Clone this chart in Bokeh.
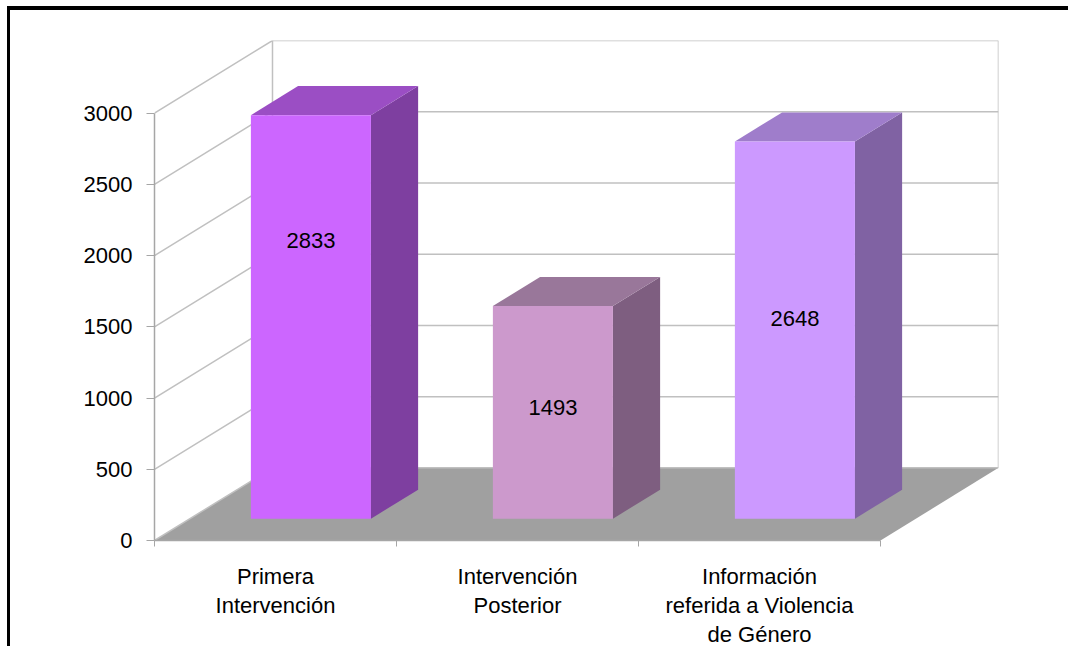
from bokeh.plotting import figure
from bokeh.models import Range1d, FixedTicker, ColumnDataSource
from bokeh.core.properties import value
from bokeh.embed import file_html
from bokeh.resources import INLINE

# ---- data ----
categories = ["Primera\nIntervención", "Intervención\nPosterior",
              "Información\nreferida a Violencia\nde Género"]
counts = [2833, 1493, 2648]
y_ticks = [0, 500, 1000, 1500, 2000, 2500, 3000]

# ---- style ----
front_colors = ["#CC66FF", "#CC99CC", "#CC99FF"]
side_colors = ["#7E3FA0", "#7E5E80", "#8062A3"]
top_colors = ["#9B4EC4", "#99779A", "#9F7DCB"]
label_frac = [0.69, 0.525, 0.53]
FONT = "Liberation Sans"
FSIZE = "22px"

n = len(categories)
YMAX = y_ticks[-1]
DX = 0.4876      # depth offset in category units
DY = 510.0       # depth offset in value units
HALF_W = 0.248
D0, D1 = 0.3, 0.7

p = figure(width=1061, height=640,
           x_range=Range1d(0, n + DX), y_range=Range1d(0, YMAX + DY),
           output_backend="svg", toolbar_location=None,
           min_border_left=144, min_border_right=73,
           min_border_top=30, min_border_bottom=108)
p.styles = {"border-top": "4px solid black", "border-left": "3px solid black",
            "margin-top": "6px", "margin-left": "7px"}
p.outline_line_color = None
p.xgrid.visible = False
p.ygrid.visible = False
p.background_fill_color = "white"
p.border_fill_color = "white"

# floor
p.patch([0, n, n + DX, DX], [0, 0, DY, DY], fill_color="#A0A0A0", line_color=None)

# walls / gridlines
gx0, gy0, gx1, gy1 = [], [], [], []
for t in y_ticks:
    gx0 += [DX, 0]
    gy0 += [t + DY, t]
    gx1 += [n + DX, DX]
    gy1 += [t + DY, t + DY]
gx0 += [DX, n + DX]
gy0 += [DY, DY]
gx1 += [DX, n + DX]
gy1 += [YMAX + DY, YMAX + DY]
p.segment(gx0, gy0, gx1, gy1, line_color="#C0C0C0", line_width=1.5)

# bars
for i, v in enumerate(counts):
    cx = i + 0.5
    xl, xr = cx - HALF_W, cx + HALF_W
    fx = [xl + D0 * DX, xr + D0 * DX, xr + D0 * DX, xl + D0 * DX]
    fy = [D0 * DY, D0 * DY, v + D0 * DY, v + D0 * DY]
    sx = [xr + D0 * DX, xr + D1 * DX, xr + D1 * DX, xr + D0 * DX]
    sy = [D0 * DY, D1 * DY, v + D1 * DY, v + D0 * DY]
    tx = [xl + D0 * DX, xr + D0 * DX, xr + D1 * DX, xl + D1 * DX]
    ty = [v + D0 * DY, v + D0 * DY, v + D1 * DY, v + D1 * DY]
    p.patch(sx, sy, fill_color=side_colors[i], line_color=None)
    p.patch(tx, ty, fill_color=top_colors[i], line_color=None)
    p.patch(fx, fy, fill_color=front_colors[i], line_color=None)

lab = ColumnDataSource(dict(
    x=[i + 0.5 + D0 * DX for i in range(n)],
    y=[v * f + D0 * DY for v, f in zip(counts, label_frac)],
    t=[str(v) for v in counts]))
p.text(x="x", y="y", text="t", source=lab, text_align="center",
       text_baseline="middle", text_font=value(FONT), text_font_size=FSIZE,
       text_color="black")

# y axis
ya = p.yaxis[0]
ya.ticker = FixedTicker(ticks=y_ticks)
ya.bounds = (0, YMAX)
ya.axis_line_color = "#A6A6A6"
ya.axis_line_width = 1.5
ya.major_tick_line_color = "#A6A6A6"
ya.major_tick_in = 0
ya.major_tick_out = 8
ya.minor_tick_line_color = None
ya.major_label_standoff = 14
ya.major_label_text_font = FONT
ya.major_label_text_font_size = FSIZE
ya.major_label_text_color = "black"

# x axis
xa = p.xaxis[0]
xa.ticker = FixedTicker(ticks=[i + 0.5 for i in range(n)],
                        minor_ticks=list(range(n + 1)))
xa.bounds = (0, n)
xa.major_label_overrides = {i + 0.5: c for i, c in enumerate(categories)}
xa.axis_line_color = "#A6A6A6"
xa.axis_line_width = 1.5
xa.major_tick_line_color = None
xa.minor_tick_line_color = "#A6A6A6"
xa.minor_tick_in = 0
xa.minor_tick_out = 6
xa.major_label_standoff = 17
xa.major_label_text_font = FONT
xa.major_label_text_font_size = FSIZE
xa.major_label_text_color = "black"
xa.major_label_text_line_height = 1.17

open("out.html", "w").write(file_html(p, INLINE))
